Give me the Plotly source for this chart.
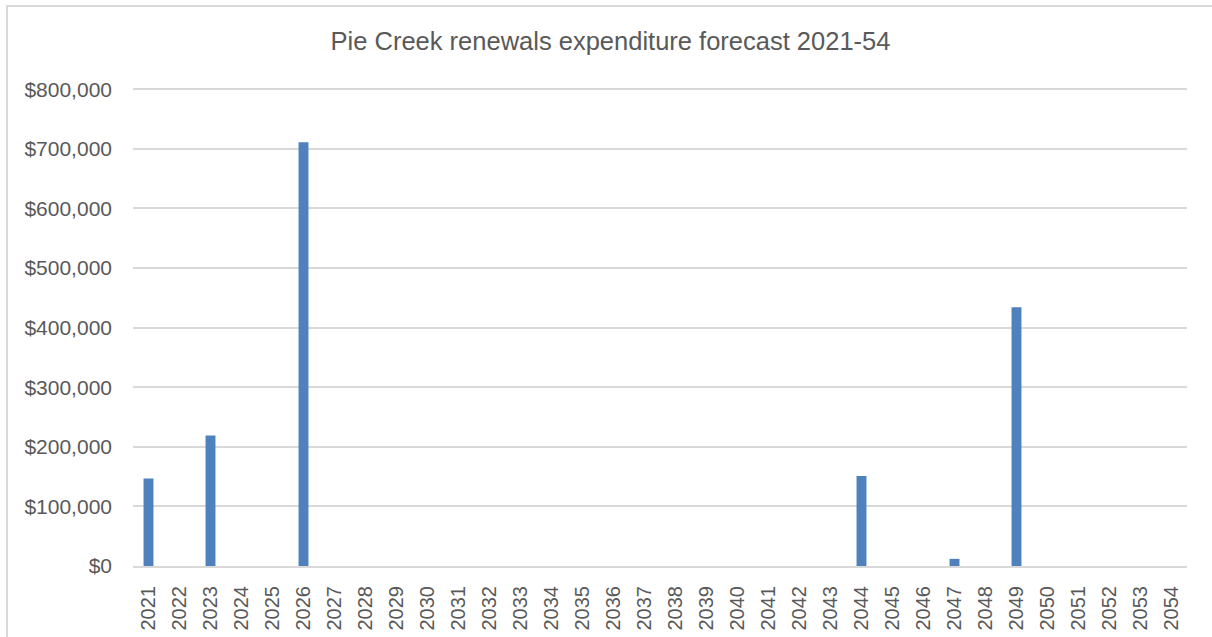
import plotly.graph_objects as go

years = [str(y) for y in range(2021, 2055)]
spend_by_year = {"2021": 147000, "2023": 219000, "2026": 711000,
                 "2044": 151000, "2047": 12000, "2049": 434000}
values = [spend_by_year.get(y, 0) for y in years]
y_ticks = [0, 100000, 200000, 300000, 400000, 500000, 600000, 700000, 800000]
y_tick_labels = ["$" + format(v, ",") for v in y_ticks]
title_text = "Pie Creek renewals expenditure forecast 2021-54"

W, H = 1212, 637
L, R, T, B = 133, 25, 88, 71
pw, ph = W - L - R, H - T - B

fig = go.Figure(go.Bar(x=years, y=values, marker=dict(color="#4F81BD", line=dict(width=0)),
                       hoverinfo="x+y"))

grey = "#595959"
fig.update_layout(
    width=W, height=H,
    margin=dict(l=L, r=R, t=T, b=B, pad=0),
    paper_bgcolor="white", plot_bgcolor="white",
    font=dict(family="Liberation Sans, Arial, sans-serif", color=grey, size=20),
    title=dict(text=title_text, x=610.5 / W, xanchor="center", xref="container",
               y=1 - 41 / H, yanchor="middle", font=dict(size=25.5, color=grey)),
    bargap=0.68,
    showlegend=False,
    xaxis=dict(type="category", tickangle=-90, showgrid=False, automargin=False,
               showline=True, linecolor="#D9D9D9", linewidth=2,
               ticks="", tickfont=dict(size=20, color=grey), ticklabelstandoff=10),
    yaxis=dict(range=[0, 802000], tickvals=y_ticks, ticktext=y_tick_labels,
               showgrid=True, gridcolor="#D9D9D9", gridwidth=2, zeroline=False,
               automargin=False,
               ticks="", ticklabelstandoff=20, tickfont=dict(size=21, color=grey)),
)

# chart area border (top and left edges visible, right/bottom beyond the page)
x0 = (7 - L) / pw
y1 = 1 + (T - 6) / ph
fig.add_shape(type="rect", xref="paper", yref="paper", x0=x0, x1=(W + 60 - L) / pw,
              y0=-(B + 60) / ph, y1=y1, line=dict(color="#D9D9D9", width=2), layer="below")

fig.write_html("out.html")
